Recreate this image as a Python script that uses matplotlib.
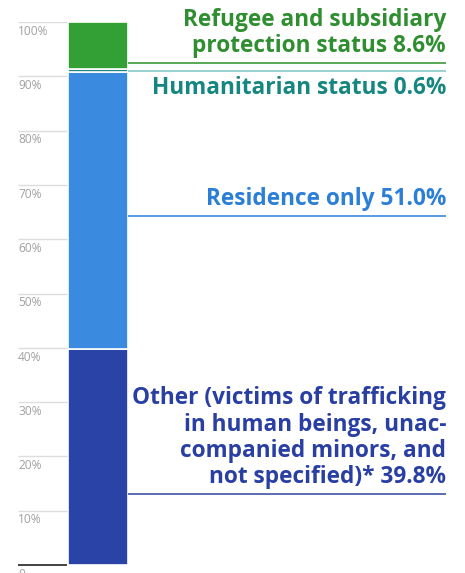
import matplotlib.pyplot as plt

plt.rcParams['font.family'] = ['Open Sans', 'DejaVu Sans']

# shares of residence permits (%), bottom to top
segments = ['Other', 'Residence only', 'Humanitarian status', 'Refugee and subsidiary protection status']
shares = [39.8, 51.0, 0.6, 8.6]
bar_colors = ['#2a43a6', '#3a8ae0', '#1f8585', '#33a036']

labels = ['Other (victims of trafficking\nin human beings, unac-\ncompanied minors, and\nnot specified)* 39.8%',
          'Residence only 51.0%',
          'Humanitarian status 0.6%',
          'Refugee and subsidiary\nprotection status 8.6%']
text_colors = ['#2a3fa3', '#2b7fd6', '#168780', '#2f8f30']
line_colors = ['#3f53a8', '#3a8ae0', '#86caca', '#3a9a3a']
line_y = [13.1, 64.3, 91.0, 92.4]
above = [True, True, False, True]

ticks = [10, 20, 30, 40, 50, 60, 70, 80, 90, 100]

fig = plt.figure(figsize=(4.65, 5.73), dpi=100)
bottom = (573 - 565) / 573
top = (573 - 22) / 573
ax = fig.add_axes([0, bottom, 1, top - bottom])
ax.set_xlim(0, 465)
ax.set_ylim(0, 100)
ax.axis('off')

# grid + tick labels
ax.hlines(ticks, 18, 67, color='#dddddd', lw=1)
for t in ticks:
    ax.text(18, t - 0.5, f'{t}%', ha='left', va='top', fontsize=8.6, color='#a0a0a0')
ax.hlines(0, 18, 67, color='#222222', lw=1.2, clip_on=False)
ax.text(18, -0.5, '0', ha='left', va='top', fontsize=8.6, color='#a0a0a0', clip_on=False)

# stacked bar
base = 0
for v, c in zip(shares, bar_colors):
    ax.bar(98, v, width=60, bottom=base, color=c, edgecolor='white', linewidth=1.2)
    base += v

# leader lines and labels
for lab, tc, lc, y, up in zip(labels, text_colors, line_colors, line_y, above):
    ax.hlines(y, 128, 446, color=lc, lw=1.2)
    if up:
        ax.text(446, y + 0.9, lab, ha='right', va='bottom', color=tc,
                fontsize=16.3, fontweight='bold', linespacing=1.12, multialignment='right')
    else:
        ax.text(446, y - 1.0, lab, ha='right', va='top', color=tc,
                fontsize=16.3, fontweight='bold', multialignment='right')

fig.savefig('out.png', dpi=100)
